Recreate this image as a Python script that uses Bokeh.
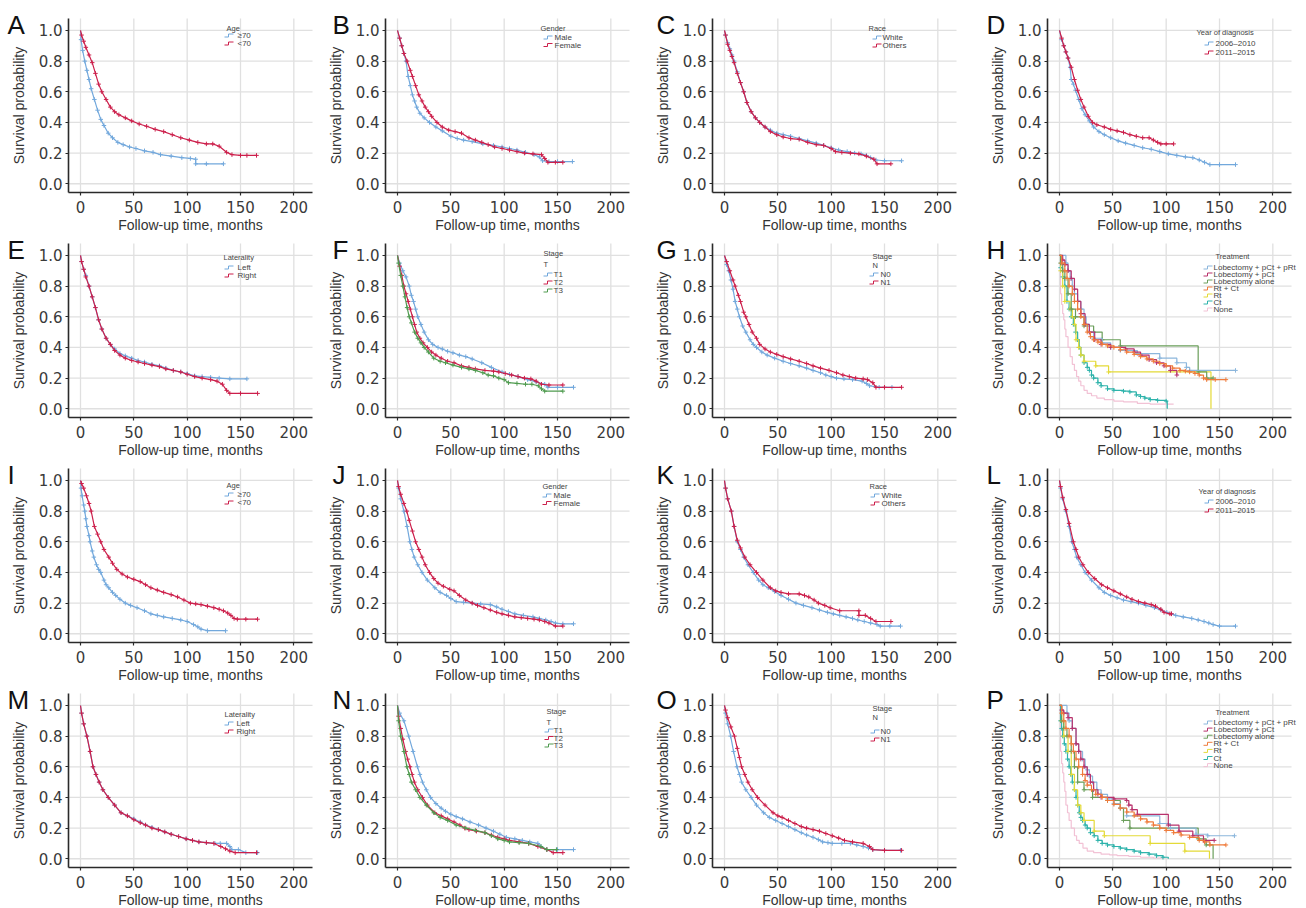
from bokeh.plotting import figure
from bokeh.layouts import gridplot
from bokeh.models import Range1d, FixedTicker, PrintfTickFormatter, Label
from bokeh.embed import file_html
from bokeh.resources import INLINE

# ---------------- data ----------------
x_ticks = [0, 50, 100, 150, 200]
y_ticks = [0.0, 0.2, 0.4, 0.6, 0.8, 1.0]
x_label = "Follow-up time, months"
y_label = "Survival probability"

age_labels = ["\u226570", "<70"]
gender_labels = ["Male", "Female"]
race_labels = ["White", "Others"]
year_labels = ["2006\u20132010", "2011\u20132015"]
laterality_labels = ["Left", "Right"]
t_labels = ["T1", "T2", "T3"]
n_labels = ["N0", "N1"]
treatment_labels = ["Lobectomy + pCt + pRt", "Lobectomy + pCt", "Lobectomy alone",
                    "Rt + Ct", "Rt", "Ct", "None"]

# A - Age
a_old_t = [0, 0.5, 2, 4, 6, 8, 10, 13, 16, 19, 22, 26, 30, 35, 40, 46, 52, 60, 68, 75, 85, 95, 103, 108, 108, 118, 134]
a_old_s = [1.0, 0.94, 0.87, 0.80, 0.74, 0.68, 0.62, 0.55, 0.48, 0.42, 0.38, 0.33, 0.30, 0.27, 0.255, 0.24, 0.23, 0.215, 0.205, 0.19, 0.18, 0.17, 0.165, 0.16, 0.13, 0.13, 0.13]
a_young_t = [0, 1, 3, 5, 8, 11, 14, 17, 20, 24, 28, 32, 36, 42, 48, 55, 62, 70, 78, 86, 94, 102, 110, 118, 124, 130, 137, 142, 150, 156, 165]
a_young_s = [1.0, 0.97, 0.93, 0.89, 0.84, 0.79, 0.72, 0.65, 0.60, 0.55, 0.50, 0.47, 0.45, 0.43, 0.41, 0.39, 0.375, 0.355, 0.34, 0.32, 0.30, 0.285, 0.27, 0.26, 0.26, 0.245, 0.205, 0.19, 0.185, 0.185, 0.185]
# B - Gender
b_male_t = [0, 2, 4, 6, 8, 10, 12, 14, 16, 18, 21, 25, 30, 36, 42, 50, 56, 62, 70, 80, 90, 98, 105, 112, 120, 128, 133, 136, 142, 150, 164]
b_male_s = [1.0, 0.95, 0.9, 0.85, 0.8, 0.7, 0.64, 0.58, 0.54, 0.5, 0.46, 0.43, 0.4, 0.37, 0.345, 0.31, 0.295, 0.285, 0.275, 0.26, 0.25, 0.24, 0.23, 0.22, 0.205, 0.19, 0.175, 0.15, 0.145, 0.145, 0.145]
b_female_t = [0, 2, 4, 6, 9, 12, 14, 17, 20, 23, 26, 29, 32, 37, 42, 48, 54, 60, 67, 73, 79, 85, 91, 98, 105, 112, 119, 127, 135, 138, 141, 148, 155]
b_female_s = [1.0, 0.95, 0.9, 0.85, 0.8, 0.74, 0.7, 0.64, 0.58, 0.54, 0.5, 0.47, 0.44, 0.4, 0.37, 0.35, 0.34, 0.33, 0.3, 0.285, 0.27, 0.255, 0.24, 0.23, 0.22, 0.21, 0.2, 0.195, 0.19, 0.165, 0.14, 0.14, 0.14]
# C - Race
c_white_t = [0, 1, 3, 5, 7, 9, 12, 15, 18, 21, 25, 29, 33, 38, 43, 49, 55, 62, 70, 78, 86, 93, 100, 107, 115, 122, 128, 133, 137, 142, 150, 166]
c_white_s = [1.0, 0.97, 0.92, 0.88, 0.84, 0.8, 0.73, 0.66, 0.6, 0.53, 0.47, 0.43, 0.4, 0.37, 0.35, 0.33, 0.32, 0.31, 0.295, 0.28, 0.265, 0.25, 0.235, 0.22, 0.21, 0.2, 0.195, 0.185, 0.17, 0.155, 0.15, 0.15]
c_other_t = [0, 1, 3, 5, 7, 9, 12, 15, 18, 21, 25, 29, 33, 38, 43, 49, 55, 62, 70, 78, 86, 93, 100, 104, 110, 118, 126, 133, 140, 143, 156]
c_other_s = [1.0, 0.97, 0.91, 0.87, 0.83, 0.79, 0.72, 0.66, 0.6, 0.53, 0.47, 0.43, 0.4, 0.37, 0.34, 0.32, 0.305, 0.295, 0.29, 0.27, 0.255, 0.25, 0.23, 0.21, 0.205, 0.2, 0.195, 0.18, 0.16, 0.13, 0.13]
# D - Year of diagnosis
d_early_t = [0, 2, 4, 6, 8, 10, 11, 13, 15, 18, 21, 24, 28, 32, 37, 42, 48, 55, 62, 70, 78, 86, 94, 102, 110, 118, 125, 131, 136, 141, 150, 165]
d_early_s = [1.0, 0.94, 0.9, 0.86, 0.82, 0.76, 0.68, 0.65, 0.61, 0.55, 0.49, 0.45, 0.41, 0.37, 0.34, 0.32, 0.3, 0.28, 0.265, 0.25, 0.235, 0.225, 0.21, 0.195, 0.185, 0.175, 0.17, 0.155, 0.14, 0.125, 0.125, 0.125]
d_late_t = [0, 2, 4, 6, 8, 11, 14, 17, 20, 23, 27, 31, 35, 42, 48, 54, 60, 66, 72, 78, 84, 88, 92, 95, 100, 107]
d_late_s = [1.0, 0.95, 0.9, 0.86, 0.82, 0.76, 0.68, 0.61, 0.55, 0.5, 0.44, 0.4, 0.385, 0.37, 0.355, 0.345, 0.335, 0.32, 0.31, 0.3, 0.3, 0.285, 0.27, 0.26, 0.26, 0.26]
# E - Laterality
e_left_t = [0, 1, 3, 5, 8, 11, 14, 17, 20, 24, 28, 32, 37, 42, 48, 54, 60, 67, 74, 80, 87, 94, 100, 107, 114, 122, 130, 140, 156]
e_left_s = [1.0, 0.96, 0.91, 0.87, 0.8, 0.73, 0.66, 0.58, 0.52, 0.46, 0.42, 0.39, 0.36, 0.345, 0.33, 0.315, 0.305, 0.29, 0.28, 0.265, 0.25, 0.24, 0.23, 0.215, 0.21, 0.205, 0.2, 0.195, 0.195]
e_right_t = [0, 1, 3, 5, 8, 11, 14, 17, 20, 24, 28, 32, 37, 42, 48, 54, 60, 67, 74, 80, 87, 94, 100, 107, 114, 122, 128, 133, 137, 140, 150, 166]
e_right_s = [1.0, 0.96, 0.91, 0.86, 0.8, 0.73, 0.66, 0.58, 0.52, 0.46, 0.42, 0.38, 0.35, 0.33, 0.315, 0.305, 0.295, 0.285, 0.275, 0.26, 0.25, 0.24, 0.225, 0.21, 0.2, 0.19, 0.18, 0.16, 0.12, 0.1, 0.1, 0.1]
# F - Stage T
f_t1_t = [0, 2, 5, 8, 11, 13, 15, 17, 19, 22, 25, 29, 33, 38, 42, 47, 52, 58, 64, 70, 79, 88, 98, 105, 113, 122, 130, 138, 141, 150, 165]
f_t1_s = [1.0, 0.95, 0.9, 0.86, 0.8, 0.74, 0.7, 0.65, 0.6, 0.55, 0.5, 0.45, 0.42, 0.4, 0.39, 0.375, 0.365, 0.35, 0.34, 0.325, 0.3, 0.27, 0.24, 0.225, 0.21, 0.19, 0.175, 0.16, 0.14, 0.14, 0.14]
f_t2_t = [0, 2, 4, 6, 8, 10, 12, 14, 16, 18, 21, 24, 28, 32, 36, 41, 47, 53, 60, 67, 73, 82, 90, 95, 101, 107, 113, 119, 125, 130, 135, 142, 155]
f_t2_s = [1.0, 0.93, 0.87, 0.8, 0.75, 0.7, 0.65, 0.6, 0.55, 0.5, 0.46, 0.43, 0.4, 0.37, 0.35, 0.33, 0.31, 0.3, 0.28, 0.27, 0.26, 0.25, 0.245, 0.24, 0.23, 0.22, 0.21, 0.2, 0.195, 0.18, 0.16, 0.155, 0.155]
f_t3_t = [0, 1, 3, 5, 7, 9, 11, 13, 16, 19, 22, 25, 29, 34, 40, 45, 52, 60, 67, 73, 80, 85, 90, 95, 100, 104, 112, 120, 126, 132, 135, 138, 155]
f_t3_s = [1.0, 0.95, 0.87, 0.8, 0.73, 0.66, 0.6, 0.56, 0.5, 0.46, 0.43, 0.4, 0.37, 0.33, 0.31, 0.3, 0.285, 0.27, 0.26, 0.25, 0.235, 0.22, 0.215, 0.2, 0.19, 0.17, 0.165, 0.16, 0.16, 0.15, 0.13, 0.115, 0.115]
# G - Stage N
g_n0_t = [0, 2, 4, 6, 8, 10, 12, 14, 17, 20, 24, 27, 30, 35, 40, 47, 55, 62, 70, 77, 83, 90, 95, 100, 105, 112, 120, 129, 133, 136, 145, 157]
g_n0_s = [1.0, 0.94, 0.9, 0.84, 0.78, 0.7, 0.65, 0.6, 0.54, 0.5, 0.45, 0.42, 0.4, 0.37, 0.35, 0.33, 0.31, 0.295, 0.28, 0.265, 0.25, 0.235, 0.22, 0.21, 0.2, 0.195, 0.19, 0.18, 0.165, 0.15, 0.14, 0.14]
g_n1_t = [0, 2, 5, 8, 10, 13, 15, 18, 20, 23, 26, 30, 33, 38, 43, 49, 55, 62, 70, 77, 83, 90, 98, 105, 111, 117, 123, 130, 134, 139, 142, 150, 166]
g_n1_s = [1.0, 0.96, 0.9, 0.84, 0.8, 0.74, 0.7, 0.63, 0.6, 0.55, 0.5, 0.46, 0.42, 0.39, 0.37, 0.355, 0.34, 0.325, 0.31, 0.295, 0.28, 0.265, 0.25, 0.235, 0.22, 0.21, 0.2, 0.195, 0.19, 0.17, 0.14, 0.14, 0.14]
# H - Treatment (step curves)
h_lpp_t = [0, 6, 8, 10, 12, 14, 17, 20, 23, 25, 28, 32, 40, 48, 57, 73, 94, 110, 119, 122, 165]
h_lpp_s = [1.0, 0.95, 0.9, 0.85, 0.8, 0.75, 0.7, 0.65, 0.6, 0.55, 0.5, 0.46, 0.43, 0.4, 0.38, 0.36, 0.33, 0.3, 0.27, 0.25, 0.25]
h_lp_t = [0, 3, 5, 8, 11, 14, 17, 20, 24, 28, 33, 39, 48, 62, 70, 76, 84, 91, 98, 104, 110]
h_lp_s = [1.0, 0.97, 0.94, 0.9, 0.85, 0.78, 0.7, 0.62, 0.55, 0.5, 0.45, 0.42, 0.4, 0.39, 0.37, 0.35, 0.32, 0.3, 0.28, 0.25, 0.22]
h_lobe_t = [0, 1, 3, 5, 8, 11, 15, 23, 32, 40, 57, 130, 138, 144]
h_lobe_s = [1.0, 0.95, 0.9, 0.85, 0.75, 0.65, 0.6, 0.54, 0.5, 0.45, 0.41, 0.24, 0.2, 0.2]
h_rtct_t = [0, 2, 5, 7, 9, 12, 14, 17, 20, 23, 26, 29, 32, 36, 40, 45, 51, 57, 63, 70, 76, 82, 88, 94, 100, 106, 113, 118, 122, 127, 131, 135, 138, 146, 156]
h_rtct_s = [1.0, 0.95, 0.9, 0.85, 0.8, 0.75, 0.7, 0.65, 0.6, 0.55, 0.5, 0.47, 0.45, 0.435, 0.42, 0.41, 0.4, 0.385, 0.37, 0.355, 0.34, 0.325, 0.31, 0.295, 0.28, 0.265, 0.25, 0.245, 0.24, 0.23, 0.22, 0.2, 0.19, 0.19, 0.19]
h_rt_t = [0, 1, 3, 5, 10, 12, 14, 15.5, 18, 20, 23, 34, 46, 142]
h_rt_s = [1.0, 0.9, 0.8, 0.7, 0.65, 0.6, 0.55, 0.45, 0.4, 0.35, 0.31, 0.28, 0.24, 0.0]
h_ct_t = [0, 1, 3, 5, 7, 9, 11, 13, 15, 17, 18.5, 20, 23, 26, 28, 30, 32, 36, 39, 45, 51, 60, 66, 72, 76, 80, 85, 92, 100, 101]
h_ct_s = [1.0, 0.92, 0.86, 0.8, 0.7, 0.65, 0.6, 0.55, 0.5, 0.45, 0.4, 0.35, 0.3, 0.27, 0.25, 0.22, 0.2, 0.17, 0.15, 0.13, 0.12, 0.115, 0.11, 0.09, 0.08, 0.07, 0.06, 0.055, 0.05, 0.0]
h_none_t = [0, 1, 2, 3, 4, 5, 6, 8, 10, 12, 14, 16, 18, 20, 23, 26, 30, 35, 42, 51, 60, 73, 85, 100, 107]
h_none_s = [1.0, 0.75, 0.68, 0.62, 0.58, 0.52, 0.47, 0.4, 0.34, 0.29, 0.25, 0.21, 0.18, 0.15, 0.12, 0.1, 0.085, 0.07, 0.06, 0.05, 0.045, 0.035, 0.03, 0.03, 0.03]
# I - Age
i_old_t = [0, 0.5, 1.5, 3, 4, 5, 6, 8, 9, 11, 12.5, 15, 17, 19, 22, 24, 26.5, 30, 33, 37, 42, 47, 53, 60, 66, 72, 78, 86, 94, 100, 106, 110, 113, 119, 136]
i_old_s = [1.0, 0.95, 0.9, 0.84, 0.8, 0.75, 0.7, 0.64, 0.6, 0.54, 0.5, 0.45, 0.42, 0.4, 0.35, 0.32, 0.3, 0.27, 0.25, 0.225, 0.2, 0.185, 0.17, 0.15, 0.13, 0.12, 0.11, 0.1, 0.09, 0.08, 0.06, 0.045, 0.03, 0.02, 0.02]
i_young_t = [0, 1, 3, 5.6, 8, 10, 13, 16, 19, 22, 26.5, 30, 34, 39, 44, 50, 56, 61, 66, 72, 78, 85, 91, 97, 103, 108, 113, 119, 125, 130, 134, 138, 141, 144, 147, 155, 166]
i_young_s = [1.0, 0.98, 0.95, 0.9, 0.85, 0.8, 0.7, 0.65, 0.6, 0.55, 0.5, 0.46, 0.42, 0.39, 0.37, 0.355, 0.34, 0.32, 0.3, 0.285, 0.27, 0.255, 0.24, 0.22, 0.2, 0.195, 0.19, 0.18, 0.17, 0.16, 0.15, 0.135, 0.12, 0.1, 0.095, 0.095, 0.095]
# J - Gender
j_male_t = [0, 1, 3, 6, 9, 11.6, 13.5, 15.6, 19, 23, 28, 35, 40, 46, 50, 55, 62, 70, 78, 87, 93, 98, 104, 110, 118, 127, 133, 139, 144, 148, 155, 165]
j_male_s = [1.0, 0.95, 0.88, 0.8, 0.7, 0.6, 0.55, 0.5, 0.45, 0.4, 0.35, 0.3, 0.27, 0.25, 0.23, 0.21, 0.205, 0.2, 0.195, 0.19, 0.175, 0.16, 0.145, 0.13, 0.12, 0.11, 0.1, 0.09, 0.08, 0.07, 0.065, 0.065]
j_female_t = [0, 1, 3, 6, 8.7, 11, 14, 17, 20, 23, 26, 30, 34, 38, 43, 49, 53, 58, 64, 70, 75, 81, 87, 93, 98, 104, 110, 116, 122, 128, 133, 138, 142, 148, 155]
j_female_s = [1.0, 0.96, 0.91, 0.85, 0.8, 0.74, 0.67, 0.6, 0.55, 0.5, 0.45, 0.4, 0.36, 0.33, 0.31, 0.29, 0.28, 0.25, 0.22, 0.2, 0.185, 0.17, 0.155, 0.14, 0.13, 0.12, 0.11, 0.105, 0.1, 0.095, 0.09, 0.08, 0.07, 0.05, 0.05]
# K - Race
k_white_t = [0, 1, 3, 6.4, 9, 12, 15, 18, 22, 27, 32, 36, 41, 47, 53, 60, 67, 74, 82, 89, 96.5, 102, 108, 114, 120, 125, 131, 137, 143, 146, 155, 165]
k_white_s = [1.0, 0.95, 0.88, 0.8, 0.7, 0.6, 0.55, 0.5, 0.45, 0.4, 0.35, 0.32, 0.3, 0.275, 0.25, 0.225, 0.2, 0.185, 0.17, 0.155, 0.14, 0.13, 0.12, 0.11, 0.1, 0.09, 0.08, 0.07, 0.06, 0.05, 0.05, 0.05]
k_other_t = [0, 1, 3, 6.4, 9, 12, 15, 19, 24, 30, 36, 43, 48, 53, 60, 70, 75, 79, 84, 88, 94, 99, 108, 126, 126, 132, 137, 142, 156]
k_other_s = [1.0, 0.95, 0.88, 0.8, 0.7, 0.61, 0.56, 0.5, 0.45, 0.4, 0.35, 0.3, 0.28, 0.27, 0.26, 0.26, 0.25, 0.24, 0.22, 0.2, 0.185, 0.17, 0.15, 0.15, 0.12, 0.12, 0.1, 0.08, 0.08]
# L - Year of diagnosis
l_early_t = [0, 1, 3, 6, 9, 11.6, 14, 16, 20, 24, 30, 37, 42, 48, 54, 60, 67, 74, 81, 89, 95, 100.6, 105, 109, 116, 124, 130, 135.5, 140, 144, 150, 165]
l_early_s = [1.0, 0.95, 0.88, 0.8, 0.7, 0.6, 0.55, 0.5, 0.45, 0.4, 0.35, 0.3, 0.27, 0.25, 0.235, 0.22, 0.21, 0.2, 0.185, 0.17, 0.155, 0.14, 0.13, 0.12, 0.11, 0.1, 0.09, 0.08, 0.07, 0.06, 0.05, 0.05]
l_late_t = [0, 1, 3, 6, 9, 13, 15.5, 18, 22, 27, 33, 39.5, 45, 51, 57, 63, 68, 74, 80, 86, 90, 95, 98, 103.5, 105]
l_late_s = [1.0, 0.96, 0.89, 0.81, 0.72, 0.6, 0.55, 0.5, 0.45, 0.4, 0.36, 0.32, 0.3, 0.28, 0.26, 0.24, 0.225, 0.21, 0.2, 0.19, 0.18, 0.16, 0.14, 0.13, 0.13]
# M - Laterality
m_left_t = [0, 1, 3, 6, 9, 11.7, 14.5, 17.5, 21, 26, 32, 38, 44, 50, 56, 61, 67, 73, 79, 85, 92, 99, 105, 111, 118, 126, 131, 137, 140, 142, 148, 155, 166]
m_left_s = [1.0, 0.95, 0.88, 0.8, 0.7, 0.6, 0.55, 0.5, 0.45, 0.4, 0.35, 0.3, 0.28, 0.26, 0.24, 0.22, 0.205, 0.19, 0.175, 0.16, 0.145, 0.13, 0.12, 0.11, 0.105, 0.1, 0.1, 0.1, 0.08, 0.06, 0.06, 0.04, 0.04]
m_right_t = [0, 1, 3, 6, 9, 11.7, 14.5, 17.5, 21, 26, 32, 38, 44, 50, 56, 61, 67, 73, 79, 85, 92, 99, 105, 111, 118, 125, 131.5, 136, 140, 145, 165]
m_right_s = [1.0, 0.95, 0.88, 0.8, 0.7, 0.6, 0.55, 0.5, 0.45, 0.4, 0.35, 0.3, 0.28, 0.255, 0.235, 0.22, 0.2, 0.19, 0.175, 0.16, 0.145, 0.13, 0.12, 0.11, 0.105, 0.1, 0.08, 0.065, 0.05, 0.04, 0.04]
# N - Stage T
n_t1_t = [0, 2, 6, 10.5, 14.6, 18.7, 21, 23.4, 27, 31, 36, 41, 45, 50, 55, 61, 68, 76, 83, 90, 96, 102, 110, 117, 124, 131.6, 134.5, 140, 150, 165]
n_t1_s = [1.0, 0.95, 0.9, 0.8, 0.7, 0.6, 0.55, 0.5, 0.45, 0.4, 0.36, 0.33, 0.31, 0.29, 0.275, 0.26, 0.24, 0.22, 0.2, 0.18, 0.16, 0.14, 0.13, 0.12, 0.11, 0.1, 0.08, 0.06, 0.06, 0.06]
n_t2_t = [0, 1, 3, 5, 7.6, 9.5, 11.7, 13.7, 15.8, 19, 23.4, 28, 35, 41, 47, 53, 58.5, 63, 67, 74, 82, 88, 94, 100, 105, 114, 123, 131.6, 140, 146, 155]
n_t2_s = [1.0, 0.93, 0.85, 0.78, 0.7, 0.65, 0.6, 0.55, 0.5, 0.45, 0.4, 0.35, 0.3, 0.28, 0.26, 0.24, 0.22, 0.2, 0.19, 0.18, 0.17, 0.155, 0.14, 0.13, 0.12, 0.11, 0.1, 0.08, 0.06, 0.04, 0.04]
n_t3_t = [0, 1, 3, 6, 8.8, 11, 13, 17, 21, 27, 34, 40, 47, 55, 64, 73, 82, 88, 94, 100, 105, 114, 123, 134.5, 140, 149]
n_t3_s = [1.0, 0.9, 0.8, 0.7, 0.6, 0.55, 0.5, 0.45, 0.4, 0.35, 0.3, 0.27, 0.25, 0.22, 0.2, 0.185, 0.17, 0.15, 0.13, 0.12, 0.11, 0.105, 0.1, 0.08, 0.06, 0.06]
# O - Stage N
o_n0_t = [0, 1, 3, 5.8, 8.5, 11.7, 14, 16, 20, 25, 30, 36.7, 42, 48, 54, 60, 66, 72, 77, 83, 88, 92, 97, 101, 110, 118, 124, 130, 135, 139, 150, 165]
o_n0_s = [1.0, 0.95, 0.88, 0.8, 0.7, 0.6, 0.55, 0.5, 0.45, 0.4, 0.35, 0.3, 0.27, 0.25, 0.23, 0.21, 0.19, 0.17, 0.155, 0.14, 0.125, 0.11, 0.105, 0.1, 0.1, 0.1, 0.09, 0.08, 0.07, 0.06, 0.055, 0.055]
o_n1_t = [0, 1, 3, 6, 9.3, 12, 14, 16, 19, 22, 26, 31, 38, 45.5, 50, 54, 60, 66, 72, 77, 83, 89, 95, 101, 107, 112.5, 120, 130, 136, 139, 150, 166]
o_n1_s = [1.0, 0.97, 0.92, 0.86, 0.8, 0.72, 0.66, 0.6, 0.55, 0.5, 0.45, 0.4, 0.35, 0.3, 0.28, 0.27, 0.25, 0.23, 0.21, 0.2, 0.19, 0.18, 0.165, 0.15, 0.135, 0.12, 0.11, 0.1, 0.08, 0.06, 0.055, 0.055]
# P - Treatment (step curves)
p_lpp_t = [0, 7, 9, 12, 15.5, 18, 21.6, 24, 26, 28, 31, 35, 39, 45, 51, 57, 63, 94, 104, 128, 139, 164]
p_lpp_s = [1.0, 0.95, 0.9, 0.85, 0.75, 0.7, 0.65, 0.6, 0.58, 0.54, 0.5, 0.45, 0.42, 0.39, 0.36, 0.33, 0.28, 0.23, 0.2, 0.16, 0.15, 0.15]
p_lp_t = [0, 2, 4, 8, 12, 15.5, 18, 20, 23, 26, 29, 32, 36, 39, 51, 63, 65, 68, 73, 102, 112, 125, 135, 145]
p_lp_s = [1.0, 0.97, 0.95, 0.92, 0.85, 0.75, 0.7, 0.65, 0.6, 0.55, 0.5, 0.45, 0.42, 0.4, 0.39, 0.38, 0.35, 0.32, 0.29, 0.22, 0.18, 0.15, 0.12, 0.12]
p_lobe_t = [0, 2, 4, 7, 11, 14, 17, 23, 31, 45, 57, 60, 66, 130, 137.5, 144]
p_lobe_s = [1.0, 0.9, 0.85, 0.8, 0.7, 0.6, 0.5, 0.45, 0.4, 0.38, 0.33, 0.25, 0.2, 0.13, 0.09, 0.0]
p_rtct_t = [0, 2, 4, 6, 9, 11, 13, 15.5, 18, 21.6, 24, 26, 30, 34, 40, 45, 51, 57, 63, 70, 76, 82, 88, 94, 100, 107, 114, 122, 131, 136, 141, 156]
p_rtct_s = [1.0, 0.95, 0.9, 0.85, 0.8, 0.75, 0.7, 0.65, 0.6, 0.55, 0.51, 0.48, 0.45, 0.42, 0.4, 0.38, 0.355, 0.33, 0.305, 0.28, 0.26, 0.24, 0.22, 0.2, 0.185, 0.17, 0.155, 0.14, 0.12, 0.11, 0.09, 0.09]
p_rt_t = [0, 2, 4, 8, 11, 14, 17, 20, 23, 32.5, 42, 85, 117.5, 140.6]
p_rt_s = [1.0, 0.9, 0.8, 0.7, 0.55, 0.45, 0.35, 0.3, 0.25, 0.18, 0.15, 0.1, 0.05, 0.0]
p_ct_t = [0, 1, 2, 3, 4.5, 6, 7.5, 9, 10.5, 12, 14, 15.5, 17, 18.5, 20, 21.6, 24, 26, 29, 32.5, 36, 40, 45, 51, 57, 63, 70, 76, 84, 91, 97, 102]
p_ct_s = [1.0, 0.9, 0.85, 0.8, 0.75, 0.7, 0.65, 0.6, 0.55, 0.5, 0.45, 0.4, 0.35, 0.3, 0.27, 0.25, 0.22, 0.2, 0.17, 0.15, 0.12, 0.1, 0.09, 0.08, 0.07, 0.06, 0.05, 0.04, 0.03, 0.02, 0.01, 0.0]
p_none_t = [0, 1, 2, 3, 4, 5, 6, 7.5, 9, 11, 14, 16, 18.5, 22, 26, 32, 39, 47, 54, 65, 76, 88, 97]
p_none_s = [1.0, 0.7, 0.62, 0.56, 0.5, 0.44, 0.35, 0.3, 0.25, 0.2, 0.15, 0.12, 0.1, 0.07, 0.05, 0.04, 0.03, 0.025, 0.02, 0.015, 0.01, 0.005, 0.0]

# ---------------- styles / layout ----------------
BLUE = "#72a8dc"
RED = "#cc1f4b"
GREEN = "#4f9b4f"
TREAT_COLORS = ["#8cb6dc", "#b8326c", "#6a9e5a", "#ef7b3b", "#e4da38", "#2eb3ab", "#f2c2d5"]
TREAT_DRAW_ORDER = [6, 5, 4, 2, 0, 1, 3]

COL_W = [325, 327, 335, 313]     # canvas widths
COL_L = [68, 60, 60, 60]         # inner plot-area left offset
COL_LET = [-61, -53, -56, -61]   # letter offset from plot-area left
ROW_H = [233, 225, 225, 225]
ROW_T = [18, 10, 10, 10]         # inner plot-area top offset
FW, FH = 244, 174
XR = (-11.25, 217.5)
YR = (-0.057, 1.078)
KX = (XR[1] - XR[0]) / FW
KY = (YR[1] - YR[0]) / FH


def px2x(px):
    return XR[0] + px * KX


def py2y(py):
    return YR[1] - py * KY


two_col = [BLUE, RED]
three_col = [BLUE, RED, GREEN]

panels = [
    dict(letter="A", title="Age", labels=age_labels, curves=[(a_old_t, a_old_s), (a_young_t, a_young_s)], colors=two_col,
         leg=(158, 10, 156, 169, 17, 8)),
    dict(letter="B", title="Gender", labels=gender_labels, curves=[(b_male_t, b_male_s), (b_female_t, b_female_s)], colors=two_col,
         leg=(155, 10, 158, 169, 19, 7.5)),
    dict(letter="C", title="Race", labels=race_labels, curves=[(c_white_t, c_white_s), (c_other_t, c_other_s)], colors=two_col,
         leg=(156, 10, 160, 170, 19, 8)),
    dict(letter="D", title="Year of diagnosis", labels=year_labels, curves=[(d_early_t, d_early_s), (d_late_t, d_late_s)], colors=two_col,
         leg=(149, 14, 157, 168, 25, 9)),
    dict(letter="E", title="Laterality", labels=laterality_labels, curves=[(e_left_t, e_left_s), (e_right_t, e_right_s)], colors=two_col,
         leg=(155, 14, 156, 169, 24, 8)),
    dict(letter="F", title="Stage", sub="T", sub_y=21, labels=t_labels,
         curves=[(f_t1_t, f_t1_s), (f_t2_t, f_t2_s), (f_t3_t, f_t3_s)], colors=three_col,
         leg=(158, 10, 158, 168, 31, 8)),
    dict(letter="G", title="Stage", sub="N", sub_y=22, labels=n_labels, curves=[(g_n0_t, g_n0_s), (g_n1_t, g_n1_s)], colors=two_col,
         leg=(160, 13, 157, 168, 31, 8)),
    dict(letter="H", title="Treatment", labels=treatment_labels, step=True,
         curves=[(h_lpp_t, h_lpp_s), (h_lp_t, h_lp_s), (h_lobe_t, h_lobe_s), (h_rtct_t, h_rtct_s),
                 (h_rt_t, h_rt_s), (h_ct_t, h_ct_s), (h_none_t, h_none_s)], colors=TREAT_COLORS,
         leg=(168, 13, 156, 166, 24, 7)),
    dict(letter="I", title="Age", labels=age_labels, curves=[(i_old_t, i_old_s), (i_young_t, i_young_s)], colors=two_col,
         leg=(158, 17, 156, 169, 26, 8)),
    dict(letter="J", title="Gender", labels=gender_labels, curves=[(j_male_t, j_male_s), (j_female_t, j_female_s)], colors=two_col,
         leg=(157, 18, 157, 168, 27, 7.5)),
    dict(letter="K", title="Race", labels=race_labels, curves=[(k_white_t, k_white_s), (k_other_t, k_other_s)], colors=two_col,
         leg=(157, 18, 158, 169, 27, 8)),
    dict(letter="L", title="Year of diagnosis", labels=year_labels, curves=[(l_early_t, l_early_s), (l_late_t, l_late_s)], colors=two_col,
         leg=(151, 23, 157, 168, 33, 9)),
    dict(letter="M", title="Laterality", labels=laterality_labels, curves=[(m_left_t, m_left_s), (m_right_t, m_right_s)], colors=two_col,
         leg=(156, 21, 156, 168, 30, 8)),
    dict(letter="N", title="Stage", sub="T", sub_y=29, labels=t_labels,
         curves=[(n_t1_t, n_t1_s), (n_t2_t, n_t2_s), (n_t3_t, n_t3_s)], colors=three_col,
         leg=(161, 18, 159, 168, 37, 7.5)),
    dict(letter="O", title="Stage", sub="N", sub_y=24, labels=n_labels, curves=[(o_n0_t, o_n0_s), (o_n1_t, o_n1_s)], colors=two_col,
         leg=(160, 15, 158, 168, 38, 8)),
    dict(letter="P", title="Treatment", labels=treatment_labels, step=True,
         curves=[(p_lpp_t, p_lpp_s), (p_lp_t, p_lp_s), (p_lobe_t, p_lobe_s), (p_rtct_t, p_rtct_s),
                 (p_rt_t, p_rt_s), (p_ct_t, p_ct_s), (p_none_t, p_none_s)], colors=TREAT_COLORS,
         leg=(168, 19, 156, 166, 29, 7.1)),
]


def make_panel(spec, row, col):
    W, H = COL_W[col], ROW_H[row]
    L, T = COL_L[col], ROW_T[row]
    # the canvas is the whole frame; the axes are pinned at the plot-area edges
    xr = Range1d(XR[0] - L * KX, XR[1] + (W - L - FW) * KX)
    yr = Range1d(YR[0] - (H - T - FH) * KY, YR[1] + T * KY)
    p = figure(width=W, height=H, x_range=xr, y_range=yr, output_backend="svg", toolbar_location=None,
               min_border_left=0, min_border_right=0, min_border_top=0, min_border_bottom=0)
    p.outline_line_color = None
    p.background_fill_color = "white"
    p.border_fill_color = "white"
    p.xgrid.visible = False
    p.ygrid.visible = False

    # grid lines inside the plot area
    p.segment(x0=x_ticks, y0=[YR[0]] * len(x_ticks), x1=x_ticks, y1=[YR[1]] * len(x_ticks),
              line_color="#e0e0e0", line_width=1.3)
    p.segment(x0=[XR[0]] * len(y_ticks), y0=y_ticks, x1=[XR[1]] * len(y_ticks), y1=y_ticks,
              line_color="#e0e0e0", line_width=1.3)

    p.xaxis.ticker = FixedTicker(ticks=x_ticks)
    p.yaxis.ticker = FixedTicker(ticks=y_ticks)
    p.yaxis.formatter = PrintfTickFormatter(format="%.1f")
    p.xaxis.fixed_location = YR[0]
    p.yaxis.fixed_location = XR[0]
    p.xaxis.bounds = XR
    p.yaxis.bounds = YR
    for ax in (p.xaxis, p.yaxis):
        ax.axis_line_color = "#2a2a2a"
        ax.axis_line_width = 1.6
        ax.major_tick_line_color = "#2a2a2a"
        ax.major_tick_line_width = 1.2
        ax.major_tick_out = 3
        ax.major_tick_in = 0
        ax.minor_tick_line_color = None
        ax.major_label_text_font = "DejaVu Sans"
        ax.major_label_text_font_size = "15px"
        ax.major_label_text_color = "#3a3a3a"
        ax.axis_label_text_font = "Liberation Sans"
        ax.axis_label_text_font_size = "14px"
        ax.axis_label_text_font_style = "normal"
        ax.axis_label_text_color = "#333333"
    p.xaxis.axis_label = x_label
    p.yaxis.axis_label = y_label
    p.yaxis.major_label_standoff = 3
    p.yaxis.axis_label_standoff = 9
    p.xaxis.major_label_standoff = 5
    p.xaxis.axis_label_standoff = 1

    step = spec.get("step", False)
    curves = spec["curves"]
    colors = spec["colors"]
    order = TREAT_DRAW_ORDER if step else list(range(len(curves)))
    for i in order:
        t, s = curves[i]
        c = colors[i]
        if step:
            p.step(t, s, mode="after", line_color=c, line_width=1.2)
        else:
            p.line(t, s, line_color=c, line_width=1.2)
        if not (step and i == len(curves) - 1):
            mx = [tt for tt, ss in zip(t[1:], s[1:]) if ss > 0]
            my = [ss for ss in s[1:] if ss > 0]
            p.scatter(mx, my, marker="cross", size=4.5, line_color=c, line_width=1)

    # legend (drawn by hand so its tight spacing matches)
    tx, ty, gx, lx, ey0, dy = spec["leg"]
    p.add_layout(Label(x=px2x(tx), y=py2y(ty), text=spec["title"], text_font="Liberation Sans",
                       text_font_size="7.5px", text_color="#444444", text_baseline="middle"))
    if spec.get("sub"):
        p.add_layout(Label(x=px2x(tx), y=py2y(spec["sub_y"]), text=spec["sub"], text_font="Liberation Sans",
                           text_font_size="7.5px", text_color="#444444", text_baseline="middle"))
    for k, lab in enumerate(spec["labels"]):
        ey = ey0 + k * dy
        c = colors[k]
        p.line([px2x(gx), px2x(gx + 4), px2x(gx + 4), px2x(gx + 9)],
               [py2y(ey + 1.5), py2y(ey + 1.5), py2y(ey - 1.5), py2y(ey - 1.5)],
               line_color=c, line_width=1)
        p.add_layout(Label(x=px2x(lx), y=py2y(ey), text=lab, text_font="Liberation Sans",
                           text_font_size="8px", text_color="#444444", text_baseline="middle"))

    # panel letter
    p.add_layout(Label(x=px2x(COL_LET[col]), y=py2y(-9), text=spec["letter"], text_font="Liberation Sans",
                       text_font_size="26px", text_color="#111111", text_baseline="top"))
    return p


rows = []
for r in range(4):
    rows.append([make_panel(panels[r * 4 + c], r, c) for c in range(4)])

grid = gridplot(rows, toolbar_location=None)

open("out.html", "w").write(file_html(grid, INLINE))
